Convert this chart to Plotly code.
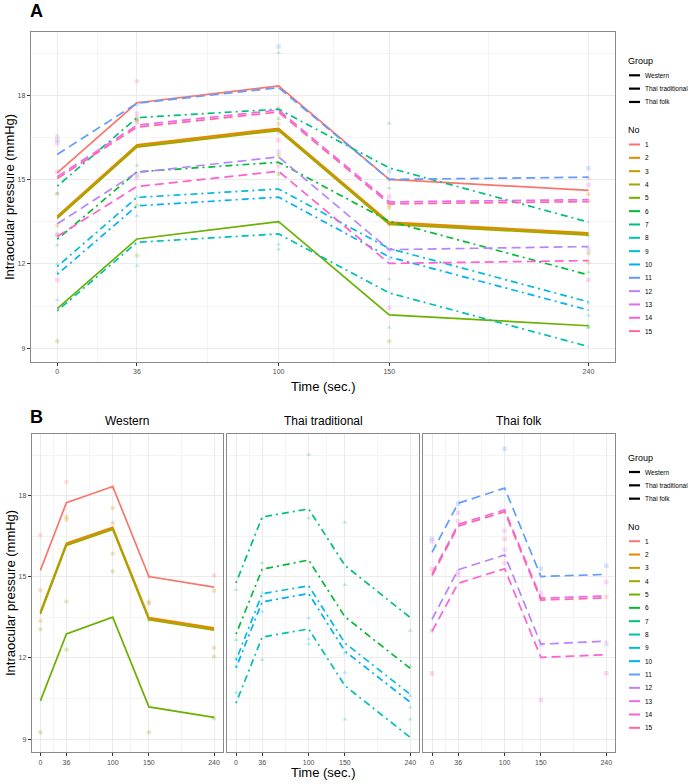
import plotly.graph_objects as go

# ---------------- data ----------------
times = [0, 36, 100, 150, 240]
time_labels = ["0", "36", "100", "150", "240"]
subjects = [str(i) for i in range(1, 16)]
groups = ["Western", "Thai traditional", "Thai folk"]
subject_group = ["Western"] * 5 + ["Thai traditional"] * 5 + ["Thai folk"] * 5

# fitted (model) trajectories per subject
fit_01 = [15.24, 17.74, 18.34, 15.01, 14.62]
fit_02 = [13.70, 16.24, 16.83, 13.49, 13.11]
fit_03 = [13.66, 16.20, 16.79, 13.45, 13.07]
fit_04 = [13.62, 16.16, 16.75, 13.41, 13.03]
fit_05 = [10.41, 12.89, 13.51, 10.19, 9.80]
fit_06 = [12.88, 15.28, 15.62, 13.52, 11.61]
fit_07 = [14.77, 17.21, 17.51, 15.42, 13.49]
fit_08 = [10.33, 12.77, 13.07, 10.97, 9.06]
fit_09 = [11.91, 14.37, 14.67, 12.55, 10.65]
fit_10 = [11.63, 14.07, 14.38, 12.25, 10.36]
fit_11 = [15.90, 17.72, 18.28, 15.01, 15.09]
fit_12 = [13.43, 15.26, 15.81, 12.51, 12.62]
fit_13 = [15.11, 16.94, 17.48, 14.21, 14.29]
fit_14 = [12.98, 14.76, 15.30, 12.02, 12.12]
fit_15 = [15.04, 16.87, 17.41, 14.14, 14.22]

# observed measurements per subject
obs_01 = [16.55, 18.51, 18.30, 15.00, 15.05]
obs_02 = [14.50, 17.21, 17.54, 14.09, 14.48]
obs_03 = [13.37, 17.11, 16.99, 14.00, 12.38]
obs_04 = [13.06, 14.09, 15.85, 13.41, 12.05]
obs_05 = [9.25, 12.30, 15.20, 9.25, 9.77]
obs_06 = [12.67, 15.51, 17.17, 14.70, 11.70]
obs_07 = [14.52, 17.14, 19.52, 17.01, 13.01]
obs_08 = [10.72, 11.93, 12.52, 9.73, 9.73]
obs_09 = [12.00, 14.40, 13.47, 12.17, 10.60]
obs_10 = [11.70, 13.71, 12.70, 11.46, 10.17]
obs_11 = [16.41, 17.70, 19.74, 15.30, 15.41]
obs_12 = [13.01, 15.20, 16.00, 12.50, 12.52]
obs_13 = [16.31, 17.36, 16.70, 14.40, 14.81]
obs_14 = [11.43, 15.07, 15.51, 10.44, 11.43]
obs_15 = [15.28, 17.05, 16.40, 14.20, 14.25]

fits = [fit_01, fit_02, fit_03, fit_04, fit_05, fit_06, fit_07, fit_08,
        fit_09, fit_10, fit_11, fit_12, fit_13, fit_14, fit_15]
obs = [obs_01, obs_02, obs_03, obs_04, obs_05, obs_06, obs_07, obs_08,
       obs_09, obs_10, obs_11, obs_12, obs_13, obs_14, obs_15]

y_ticks = [9, 12, 15, 18]
y_minor = [10.5, 13.5, 16.5, 19.5]
x_minor = [18, 68, 125, 195]

# ---------------- styling ----------------
colors = ['#F8766D', '#E58700', '#C99800', '#A3A500', '#6BB100', '#00BA38',
          '#00BF7D', '#00C0AF', '#00BCD8', '#00B0F6', '#619CFF', '#B983FF',
          '#E76BF3', '#FD61D1', '#FF67A4']
dash_by_group = {"Western": "solid", "Thai traditional": "2px,4px,7px,4px",
                 "Thai folk": "9px,5px"}
symbol_by_group = {"Western": "circle", "Thai traditional": "triangle-up",
                   "Thai folk": "square"}
FONT = "Liberation Sans, Arial, Helvetica, sans-serif"
W, H = 692, 784


def xd(a, b):
    return [a / W, b / W]


def yd(top, bottom):
    return [1 - bottom / H, 1 - top / H]


fig = go.Figure()

# axis slots: panel A -> ('x','y'); panel B facets -> x2/y2, x3/y3, x4/y4
facet_axes = {"Western": ("x2", "y2"), "Thai traditional": ("x3", "y3"),
              "Thai folk": ("x4", "y4")}

for axes_kind in ["A", "B"]:
    # points first
    for i, s in enumerate(subjects):
        g = subject_group[i]
        xa, ya = ("x", "y") if axes_kind == "A" else facet_axes[g]
        fig.add_trace(go.Scatter(
            x=times, y=obs[i], mode="markers", xaxis=xa, yaxis=ya,
            marker=dict(color=colors[i], symbol=symbol_by_group[g], size=4.5,
                        opacity=0.25, line=dict(width=0)),
            showlegend=False, hoverinfo="skip"))
    for i, s in enumerate(subjects):
        g = subject_group[i]
        xa, ya = ("x", "y") if axes_kind == "A" else facet_axes[g]
        fig.add_trace(go.Scatter(
            x=times, y=fits[i], mode="lines", xaxis=xa, yaxis=ya,
            line=dict(color=colors[i], width=1.7, dash=dash_by_group[g]),
            name=s, showlegend=False))

GRID = "#EBEBEB"
MINOR = "#F4F4F4"
BORDER = "#8a8a8a"


def xaxis_cfg(domain, anchor):
    return dict(domain=domain, anchor=anchor, range=[-12, 252],
                tickmode="array", tickvals=times, ticktext=time_labels,
                ticks="outside", ticklen=3, tickcolor="#333333", tickwidth=0.8,
                tickfont=dict(size=7, color="#4D4D4D", family=FONT),
                showgrid=True, gridcolor=GRID, gridwidth=1, zeroline=False,
                showline=True, mirror=True, linecolor=BORDER, linewidth=1,
                minor=dict(tickmode="array", tickvals=x_minor, showgrid=True,
                           gridcolor=MINOR, gridwidth=1, ticks=""))


def yaxis_cfg(domain, anchor, labels=True):
    return dict(domain=domain, anchor=anchor, range=[8.51, 20.27],
                tickmode="array", tickvals=y_ticks,
                ticktext=[str(v) for v in y_ticks] if labels else [""] * 4,
                ticks="outside" if labels else "", ticklen=3,
                tickcolor="#333333", tickwidth=0.8,
                tickfont=dict(size=7, color="#4D4D4D", family=FONT),
                showgrid=True, gridcolor=GRID, gridwidth=1, zeroline=False,
                showline=True, mirror=True, linecolor=BORDER, linewidth=1,
                minor=dict(tickmode="array", tickvals=y_minor, showgrid=True,
                           gridcolor=MINOR, gridwidth=1, ticks=""))


fig.update_layout(
    width=W, height=H, margin=dict(l=0, r=0, t=0, b=0, autoexpand=False),
    paper_bgcolor="white", plot_bgcolor="white", showlegend=False,
    font=dict(family=FONT, color="black"),
    xaxis=xaxis_cfg(xd(30.7, 615), "y"),
    yaxis=yaxis_cfg(yd(31.7, 362), "x"),
    xaxis2=xaxis_cfg(xd(31.7, 222.7), "y2"),
    yaxis2=yaxis_cfg(yd(434.3, 752.3), "x2"),
    xaxis3=xaxis_cfg(xd(227.3, 419.0), "y3"),
    yaxis3=yaxis_cfg(yd(434.3, 752.3), "x3", labels=False),
    xaxis4=xaxis_cfg(xd(423.3, 615), "y4"),
    yaxis4=yaxis_cfg(yd(434.3, 752.3), "x4", labels=False),
)

ann = []
shapes = []


def text(x, y, t, size, bold=False, anchor="center", angle=0):
    ann.append(dict(x=x / W, y=1 - y / H, xref="paper", yref="paper",
                    text=("<b>%s</b>" % t) if bold else t, showarrow=False,
                    xanchor=anchor, yanchor="middle", textangle=angle,
                    borderpad=0,
                    font=dict(size=size, family=FONT, color="black")))


# panel tags
text(29, 11, "A", 18, bold=True, anchor="left")
text(29, 417, "B", 18, bold=True, anchor="left")
# axis titles
text(10, 197, "Intraocular pressure (mmHg)", 13, angle=-90)
text(10, 593, "Intraocular pressure (mmHg)", 13, angle=-90)
text(323, 386, "Time (sec.)", 13)
text(323, 772, "Time (sec.)", 13)
# strip labels
text(127.2, 421, groups[0], 12)
text(323.2, 421, groups[1], 12)
text(519.2, 421, groups[2], 12)


# legends (Group / No) beside each panel
def legend_block(top_group):
    text(627, top_group, "Group", 9, anchor="left")
    for k, g in enumerate(groups):
        yy = top_group + 14.3 + k * 13.33
        shapes.append(dict(type="line", xref="paper", yref="paper",
                           x0=629 / W, x1=640 / W, y0=1 - yy / H, y1=1 - yy / H,
                           line=dict(color="black", width=2.2)))
        text(644, yy, g, 6.5, anchor="left")
    top_no = top_group + 69
    text(627, top_no, "No", 9, anchor="left")
    for k, s in enumerate(subjects):
        yy = top_no + 14.5 + k * 13.33
        shapes.append(dict(type="line", xref="paper", yref="paper",
                           x0=629 / W, x1=640 / W, y0=1 - yy / H, y1=1 - yy / H,
                           line=dict(color=colors[k], width=2)))
        text(644, yy, s, 6.5, anchor="left")


legend_block(61)
legend_block(457.7)

fig.update_layout(annotations=ann, shapes=shapes)
fig.write_html("out.html")
